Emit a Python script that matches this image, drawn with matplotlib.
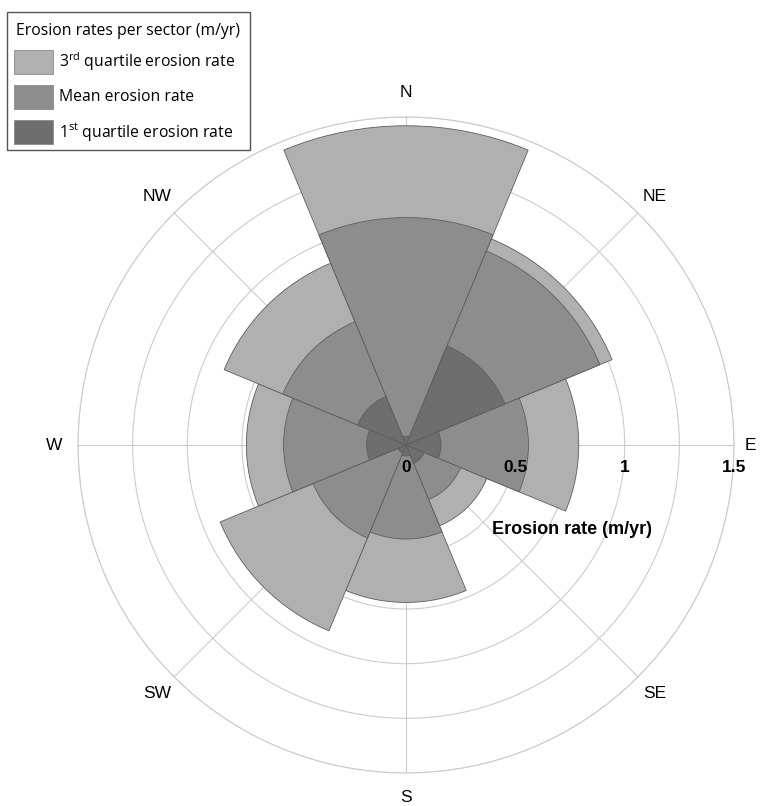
import numpy as np
import matplotlib
matplotlib.use("Agg")
import matplotlib.pyplot as plt
from matplotlib.patches import Rectangle

# ---- data ----
directions = ['N', 'NE', 'E', 'SE', 'S', 'SW', 'W', 'NW']
q3_rate = [1.46, 1.02, 0.79, 0.40, 0.72, 0.92, 0.73, 0.90]
mean_rate = [1.04, 0.96, 0.56, 0.27, 0.43, 0.46, 0.56, 0.61]
q1_rate = [0.04, 0.49, 0.16, 0.09, 0.05, 0.04, 0.18, 0.24]
radial_ticks = [0, 0.5, 1, 1.5]
radial_tick_labels = ['0', '0.5', '1', '1.5']
legend_title = 'Erosion rates per sector (m/yr)'
legend_labels = [r'3$^{\mathrm{rd}}$ quartile erosion rate',
                 'Mean erosion rate',
                 r'1$^{\mathrm{st}}$ quartile erosion rate']
axis_label = 'Erosion rate (m/yr)'

# ---- style ----
c_q3 = '#b0b0b0'
c_mean = '#8d8d8d'
c_q1 = '#6e6e6e'
edge = '#5e5e5e'
grid_c = '#cccccc'

plt.rcParams['mathtext.fontset'] = 'custom'
plt.rcParams['mathtext.rm'] = 'Open Sans'
plt.rcParams['mathtext.it'] = 'Open Sans'

W, H = 761, 806
fig = plt.figure(figsize=(W / 100, H / 100), dpi=100)
cx, cy, R = 406, 445, 328
ax = fig.add_axes([(cx - R) / W, (H - cy - R) / H, 2 * R / W, 2 * R / H],
                  projection='polar')
ax.set_theta_zero_location('N')
ax.set_theta_direction(-1)
ax.set_ylim(0, 1.5)

theta = np.deg2rad(np.arange(len(directions)) * 45.0)
width = np.deg2rad(45.0)
for vals, col, z in [(q3_rate, c_q3, 2), (mean_rate, c_mean, 3), (q1_rate, c_q1, 4)]:
    ax.bar(theta, vals, width=width, bottom=0, color=col, edgecolor=edge,
           linewidth=0.6, zorder=z)

ax.set_xticks(theta)
ax.set_xticklabels([])
ax.set_yticks(np.arange(0.25, 1.51, 0.25))
ax.set_yticklabels([])
ax.tick_params(length=0)
ax.grid(True, color=grid_c, linewidth=0.8)
ax.set_axisbelow(True)
ax.spines['polar'].set_color(grid_c)
ax.spines['polar'].set_linewidth(0.8)

for t, name in zip(theta, directions):
    rr = 1.575 if name == 'E' else 1.61
    ax.text(t, rr, name, ha='center', va='center', fontsize=12.5,
            family='Liberation Sans', clip_on=False)

for r, lbl in zip(radial_ticks, radial_tick_labels):
    ax.annotate(lbl, xy=(np.pi / 2, r), xytext=(0, -22.5), textcoords='offset pixels',
                ha='center', va='center', fontsize=12.5, fontweight='bold',
                family='Liberation Sans', annotation_clip=False, zorder=10)

fig.text(572 / W, 1 - 530 / H, axis_label, ha='center', va='center', fontsize=13,
         fontweight='bold', family='Liberation Sans')

# ---- legend (manual box) ----
def fx(x):
    return x / W

def fy(y):
    return 1 - y / H

fig.add_artist(Rectangle((fx(7), fy(150)), fx(250) - fx(7), fy(12) - fy(150),
                         transform=fig.transFigure, facecolor='white',
                         edgecolor='#555555', linewidth=1.0))
fig.text(fx(16), fy(31), legend_title, ha='left', va='center', fontsize=11.3,
         family='Open Sans')
for i, (lbl, col) in enumerate(zip(legend_labels, [c_q3, c_mean, c_q1])):
    top = 50 + i * 35
    fig.add_artist(Rectangle((fx(14), fy(top + 24)), fx(53) - fx(14), fy(top) - fy(top + 24),
                             transform=fig.transFigure, facecolor=col,
                             edgecolor='#8a8a8a', linewidth=0.6))
    fig.text(fx(59), fy(top + 12), lbl, ha='left', va='center', fontsize=11.3,
             family='Open Sans')

fig.savefig('out.png', dpi=100)
